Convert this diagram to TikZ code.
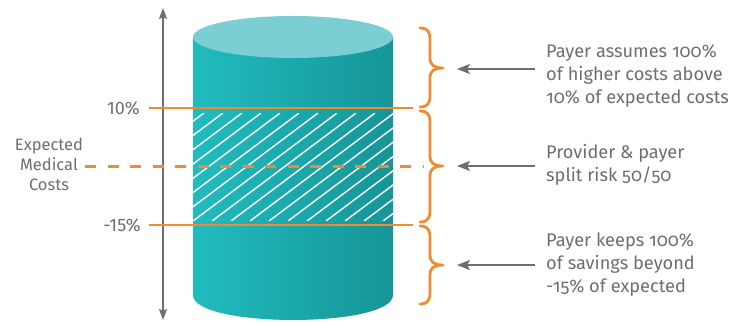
\documentclass[tikz,border=0pt]{standalone}
\usepackage{fontspec}
\setmainfont{Fira Sans}
\newfontfamily\oldnum[Numbers=OldStyle]{Fira Sans}
\usetikzlibrary{arrows.meta}
\definecolor{txtgray}{HTML}{6D6E71}
\definecolor{arrgray}{HTML}{6D6E71}
\definecolor{orng}{HTML}{F28B30}
\definecolor{tealL}{HTML}{21BCBF}
\definecolor{tealR}{HTML}{169597}
\definecolor{tealTop}{HTML}{7BCFD2}
\newcommand\mybrace[3]{% top, mid, bottom
  \draw[bracestyle] (420,#1) .. controls (428,#1) and (430,#1+4) .. (430,#1+12)
    -- (430,#2-10) .. controls (430,#2-3) and (434,#2) .. (443,#2)
    .. controls (434,#2) and (430,#2+3) .. (430,#2+10)
    -- (430,#3-12) .. controls (430,#3-4) and (428,#3) .. (420,#3);}
\begin{document}
\begin{tikzpicture}[x=1pt,y=-1pt,
  bracestyle/.style={draw=orng,line width=2.8pt,line cap=round,line join=round},
  orline/.style={draw=orng,line width=2.4pt},
  arr/.style={draw=arrgray,line width=2pt,-{Stealth[length=13pt,width=10pt,inset=3pt]}},
  axis/.style={draw=arrgray,line width=1.5pt,{Stealth[length=11pt,width=8pt,inset=2pt]}-{Stealth[length=11pt,width=8pt,inset=2pt]}},
  rtext/.style={anchor=west,align=left,inner sep=0pt,text=txtgray,font=\oldnum\fontsize{18.2}{23}\selectfont},
  ltext/.style={inner sep=0pt,text=txtgray,font=\fontsize{16.5}{20}\selectfont},
  ntext/.style={inner sep=0pt,text=txtgray,font=\fontsize{18}{20}\selectfont}]
\useasboundingbox (0,0) rectangle (734,323);
% cylinder body
\shade[left color=tealL,right color=tealR] (193,37) -- (193,295)
  .. controls (193,328.3) and (393,328.3) .. (393,295) -- (393,37) -- cycle;
\fill[tealTop] (293,37) ellipse [x radius=100, y radius=21];
% hatch
\begin{scope}
\clip (193,114) rectangle (393,221);
\foreach \i in {0,...,20}{
  \draw[white,line width=1.4pt] (60+19*\i,221) -- (60+19*\i+144,113);
}
\end{scope}
% axis
\coordinate (axtop) at (163,8);
\coordinate (axbot) at (163,320);
\draw[axis] (axbot) -- (axtop);
% orange lines
\coordinate (l1a) at (149,108); \coordinate (l1b) at (413,108);
\coordinate (l2a) at (149,225); \coordinate (l2b) at (413,225);
\coordinate (dla) at (85,167); \coordinate (dlb) at (423,167);
\draw[orline] (l1a) -- (l1b);
\draw[orline] (l2a) -- (l2b);
\draw[orng,line width=3pt,dash pattern=on 11pt off 11.5pt] (dla) -- (dlb);
% braces
\mybrace{28}{68}{107}
\mybrace{111}{166}{222}
\mybrace{226}{265}{304}
% left labels
\node[ntext,anchor=east] (p10) at (140,108) {10\%};
\node[ntext,anchor=east] (m15) at (141,225) {-15\%};
\node[ltext,align=center] (emc) at (49,164) {Expected\\Medical\\Costs};
% right texts
\node[rtext] (t1) at (546,75.5) {Payer assumes 100\%\\of higher costs above\\10\% of expected costs};
\node[rtext] (t2) at (546,165) {Provider \& payer\\split risk 50/50};
\node[rtext] (t3) at (546,264.5) {Payer keeps 100\%\\of savings beyond\\-15\% of expected};
% arrows
\coordinate (s1) at (535,69); \coordinate (e1) at (457,69);
\coordinate (s2) at (535,166); \coordinate (e2) at (457,166);
\coordinate (s3) at (535,265); \coordinate (e3) at (457,265);
\draw[arr] (s1) -- (e1);
\draw[arr] (s2) -- (e2);
\draw[arr] (s3) -- (e3);
\end{tikzpicture}
\end{document}
